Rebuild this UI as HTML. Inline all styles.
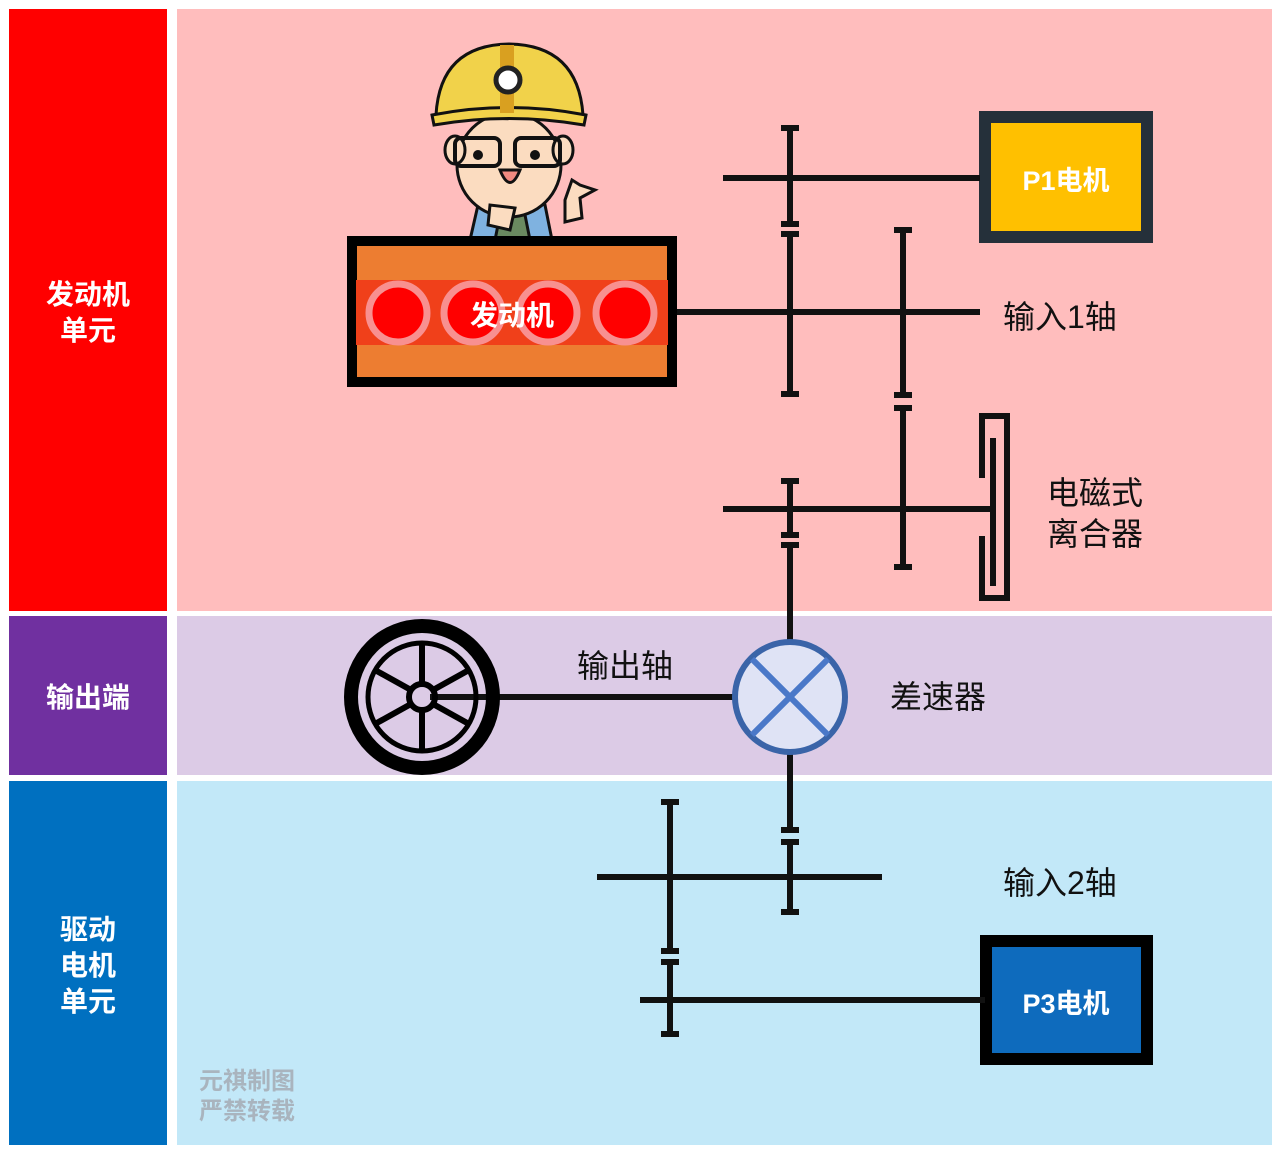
<!DOCTYPE html>
<html><head><meta charset="utf-8"><style>
body{margin:0;width:1280px;height:1152px;background:#fff;overflow:hidden}
svg{display:block}
text{font-family:"Liberation Sans","Noto Sans CJK SC",sans-serif}
</style></head><body>
<svg width="1280" height="1152" viewBox="0 0 1280 1152" xmlns="http://www.w3.org/2000/svg">
<rect x="9" y="9" width="158" height="602" fill="#ff0000"/>
<rect x="9" y="616" width="158" height="159" fill="#7030a0"/>
<rect x="9" y="781" width="158" height="364" fill="#0070c0"/>
<rect x="177" y="9" width="1095" height="602" fill="#ffbdbd"/>
<rect x="177" y="616" width="1095" height="159" fill="#dccbe6"/>
<rect x="177" y="781" width="1095" height="364" fill="#c2e8f8"/>
<g fill="#fff" font-size="28" font-weight="bold" text-anchor="middle">
<text x="88" y="304">发动机</text><text x="88" y="340">单元</text>
<text x="88" y="707">输出端</text>
<text x="88" y="939">驱动</text><text x="88" y="975">电机</text><text x="88" y="1011">单元</text>
</g>
<g fill="#a9b4be" font-size="24" font-weight="bold"><text x="199" y="1089">元祺制图</text><text x="199" y="1119">严禁转载</text></g>

<!-- engineer -->
<g stroke="#111" stroke-width="3">
<path d="M470 240 L478 205 Q510 195 545 205 L552 240 Z" fill="#7fb2e0"/>
<path d="M495 240 L500 215 L525 215 L530 240Z" fill="#6a8a60"/>
<ellipse cx="509" cy="165" rx="52" ry="52" fill="#fbdcc0"/>
<ellipse cx="455" cy="150" rx="10" ry="14" fill="#fbdcc0"/>
<ellipse cx="563" cy="150" rx="10" ry="14" fill="#fbdcc0"/>
<rect x="455" y="138" width="45" height="28" rx="6" fill="none" stroke-width="4"/>
<rect x="515" y="138" width="45" height="28" rx="6" fill="none" stroke-width="4"/>
<path d="M500 170 Q510 195 520 170Z" fill="#f08a80"/>
<path d="M565 200 L572 180 L580 185 L595 190 L580 198 L582 218 L565 222Z" fill="#fbdcc0"/>
<path d="M488 225 L490 205 L515 208 L510 230Z" fill="#fbdcc0"/>
<path d="M436 115 Q440 45 509 44 Q578 45 583 115 Z" fill="#f1d24a"/>
<path d="M432 115 Q509 100 586 115 L584 125 Q509 112 434 125Z" fill="#f1d24a"/>
</g>
<rect x="500" y="45" width="14" height="68" fill="#d9a020"/>
<circle cx="508" cy="80" r="12" fill="#fff" stroke="#222" stroke-width="5"/>
<circle cx="478" cy="155" r="5" fill="#111"/><circle cx="535" cy="155" r="5" fill="#111"/>

<!-- engine -->
<rect x="352" y="241" width="320" height="141" fill="#ed7d31" stroke="#000" stroke-width="10"/>
<rect x="356" y="280" width="312" height="65" fill="#f0401a"/>
<g fill="#ff0000" stroke="#f89090" stroke-width="7">
<circle cx="398" cy="313" r="29"/><circle cx="473" cy="313" r="29"/><circle cx="548" cy="313" r="29"/><circle cx="625" cy="313" r="29"/>
</g>
<text x="512" y="325" fill="#fff" font-size="28" font-weight="bold" text-anchor="middle">发动机</text>

<!-- P1 -->
<rect x="985" y="117" width="162" height="120" fill="#ffc000" stroke="#25303a" stroke-width="12"/>
<text x="1066" y="190" fill="#fff" font-size="27" font-weight="bold" text-anchor="middle">P1电机</text>
<!-- P3 -->
<rect x="986" y="941" width="161" height="118" fill="#0e6bbd" stroke="#000" stroke-width="12"/>
<text x="1066" y="1013" fill="#fff" font-size="27" font-weight="bold" text-anchor="middle">P3电机</text>

<g stroke="#111" stroke-width="6" fill="none">
<!-- top shafts -->
<line x1="723" y1="178" x2="980" y2="178"/>
<line x1="677" y1="312" x2="980" y2="312"/>
<line x1="723" y1="509" x2="993" y2="509"/>
<line x1="790" y1="127" x2="790" y2="224"/><line x1="781" y1="128" x2="799" y2="128"/><line x1="781" y1="224" x2="799" y2="224"/>
<line x1="790" y1="234" x2="790" y2="394"/><line x1="781" y1="234" x2="799" y2="234"/><line x1="781" y1="394" x2="799" y2="394"/>
<line x1="903" y1="230" x2="903" y2="395"/><line x1="894" y1="230" x2="912" y2="230"/><line x1="894" y1="395" x2="912" y2="395"/>
<line x1="903" y1="408" x2="903" y2="567"/><line x1="894" y1="408" x2="912" y2="408"/><line x1="894" y1="567" x2="912" y2="567"/>
<line x1="790" y1="481" x2="790" y2="535"/><line x1="781" y1="481" x2="799" y2="481"/><line x1="781" y1="535" x2="799" y2="535"/>
<line x1="790" y1="545" x2="790" y2="642"/><line x1="781" y1="545" x2="799" y2="545"/>
<!-- clutch -->
<path d="M982 478 V416 H1007 V598 H982 V536"/>
<line x1="993" y1="438" x2="993" y2="586"/>
<!-- bottom -->
<line x1="790" y1="752" x2="790" y2="830"/><line x1="781" y1="830" x2="799" y2="830"/>
<line x1="790" y1="842" x2="790" y2="912"/><line x1="781" y1="842" x2="799" y2="842"/><line x1="781" y1="912" x2="799" y2="912"/>
<line x1="597" y1="877" x2="882" y2="877"/>
<line x1="670" y1="802" x2="670" y2="951"/><line x1="661" y1="802" x2="679" y2="802"/><line x1="661" y1="951" x2="679" y2="951"/>
<line x1="670" y1="962" x2="670" y2="1034"/><line x1="661" y1="962" x2="679" y2="962"/><line x1="661" y1="1034" x2="679" y2="1034"/>
<line x1="640" y1="1000" x2="985" y2="1000"/>
<!-- output shaft -->
<line x1="430" y1="697" x2="735" y2="697"/>
</g>
<!-- wheel -->
<g stroke="#000" fill="none">
<circle cx="422" cy="697" r="71" stroke-width="14"/>
<circle cx="422" cy="697" r="54" stroke-width="5"/>
<circle cx="422" cy="697" r="13" stroke-width="6"/>
<g stroke-width="6">
<line x1="422" y1="684" x2="422" y2="645"/><line x1="422" y1="710" x2="422" y2="749"/>
<line x1="411" y1="690" x2="375" y2="670"/><line x1="433" y1="704" x2="469" y2="724"/>
<line x1="411" y1="704" x2="375" y2="724"/><line x1="433" y1="690" x2="469" y2="670"/>
</g>
</g>
<!-- diff -->
<circle cx="790" cy="697" r="55" fill="#dfe3f5" stroke="#3a64a8" stroke-width="6"/>
<g stroke="#4a78c8" stroke-width="6"><line x1="752" y1="659" x2="828" y2="735"/><line x1="828" y1="659" x2="752" y2="735"/></g>

<g fill="#111" font-size="32">
<text x="1003" y="328">输入1轴</text>
<text x="1047" y="504">电磁式</text><text x="1047" y="545">离合器</text>
<text x="577" y="677">输出轴</text>
<text x="890" y="708">差速器</text>
<text x="1003" y="894">输入2轴</text>
</g>
</svg>
</body></html>
